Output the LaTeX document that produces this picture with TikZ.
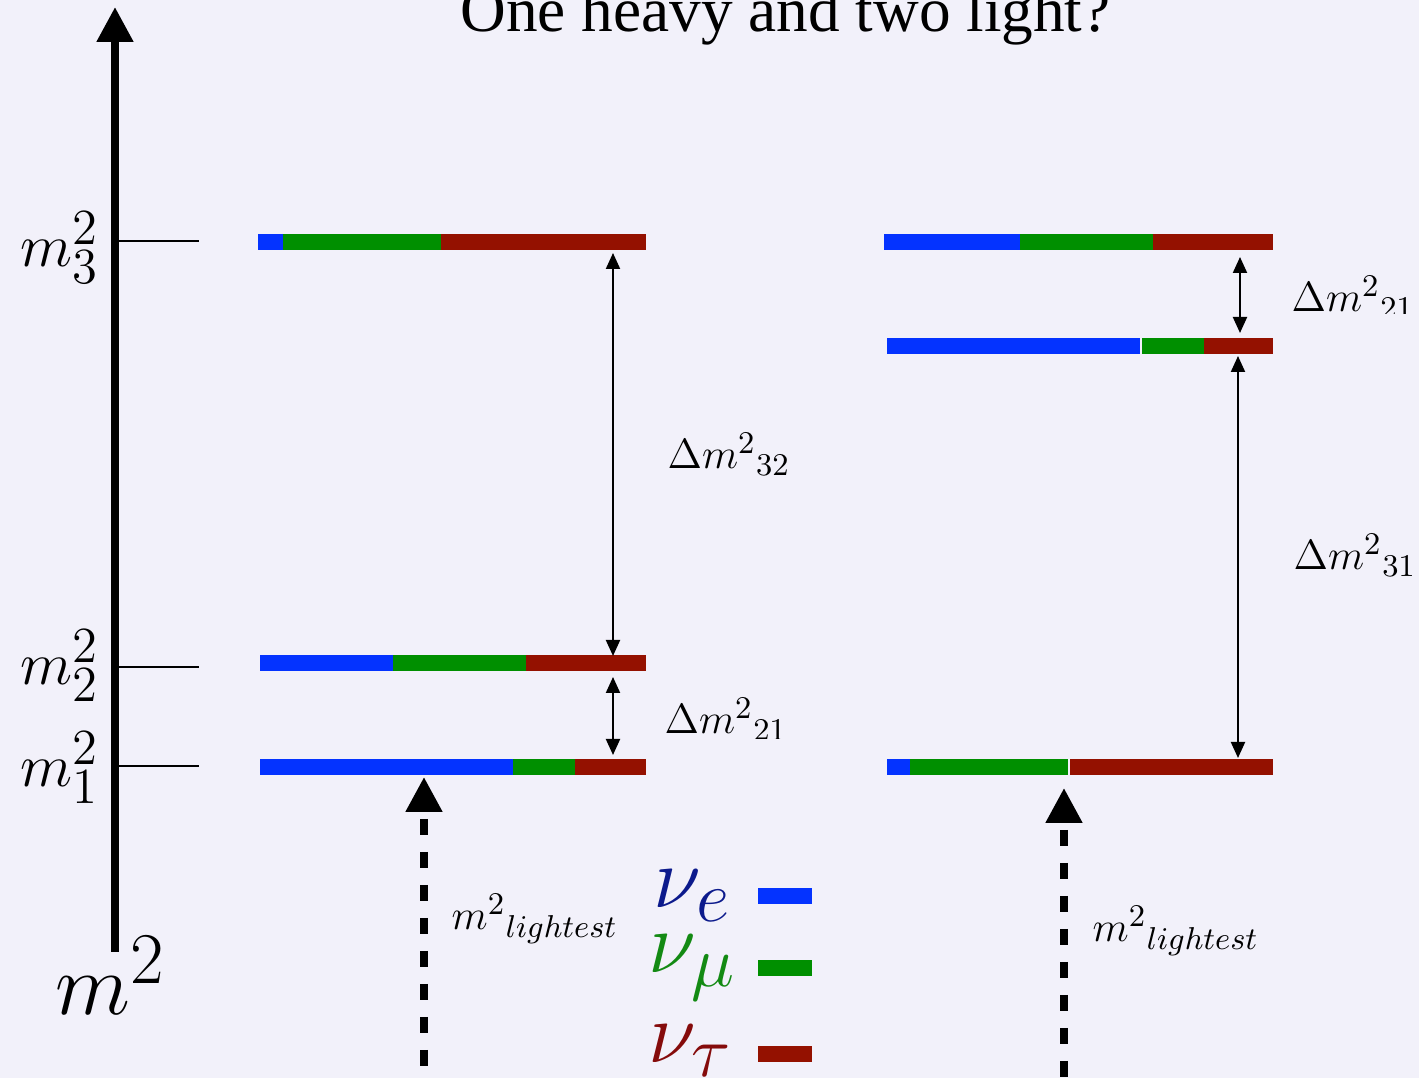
\documentclass[tikz,border=0pt]{standalone}
\usepackage{fontspec}
\newfontfamily\titlefont{Liberation Serif}
\usepackage{tikz}
\usetikzlibrary{arrows.meta}
\definecolor{slidebg}{HTML}{F2F1FA}
\definecolor{flavE}{HTML}{0433FF}
\definecolor{flavMu}{HTML}{008F00}
\definecolor{flavTau}{HTML}{941100}
\definecolor{nuE}{HTML}{0C1A8C}
\definecolor{nuMu}{HTML}{138A13}
\definecolor{nuTau}{HTML}{850B0B}

\begin{document}
\begin{tikzpicture}[>={Triangle[width=0.14cm,length=0.16cm]},
  axis/.style={line width=0.08cm, -{Triangle[width=0.35cm,length=0.35cm]}},
  tickline/.style={line width=0.02cm},
  gap/.style={<->, line width=0.02cm},
  lightarr/.style={line width=0.08cm, dash pattern=on 0.16cm off 0.17cm, dash phase=0.24cm, {Triangle[width=0.35cm,length=0.35cm]}-},
  mlab/.style={anchor=base east, inner sep=0pt, font=\fontsize{19}{23}\selectfont},
  dlab/.style={anchor=base west, inner sep=0pt, font=\fontsize{12.5}{15}\selectfont},
  nulab/.style={anchor=base west, inner sep=0pt, font=\fontsize{28}{32}\selectfont}]
\useasboundingbox (0,0) rectangle (14.19,-10.78);
\clip (0,0) rectangle (14.19,-10.78);
\fill[slidebg] (0,0) rectangle (14.19,-10.78);

\node[anchor=base, inner sep=0pt, font=\titlefont\fontsize{18}{20}\selectfont] (title) at (7.855,-0.32) {One heavy and two light?};

\coordinate (ax0) at (1.15,-9.52);
\coordinate (ax1) at (1.15,-0.07);
\draw[axis] (ax0) -- (ax1);
\foreach \y in {2.41,6.67,7.66} \draw[tickline] (1.15,-\y) -- (1.99,-\y);
\node[mlab] (m3) at (1.00,-2.67) {$m_3^2$};
\node[mlab] (m2) at (1.00,-6.85) {$m_2^2$};
\node[mlab] (m1) at (1.00,-7.87) {$m_1^2$};
\node[anchor=base west, inner sep=0pt, font=\fontsize{28}{32}\selectfont] (msq) at (0.55,-10.15) {$m^2$};

\foreach \xa/\xb/\y/\c in {2.58/2.83/2.42/flavE, 2.83/4.41/2.42/flavMu, 4.41/6.46/2.42/flavTau,
  2.60/3.93/6.635/flavE, 3.93/5.26/6.635/flavMu, 5.26/6.46/6.635/flavTau,
  2.60/5.13/7.675/flavE, 5.13/5.75/7.675/flavMu, 5.75/6.46/7.675/flavTau,
  8.84/10.20/2.42/flavE, 10.20/11.53/2.42/flavMu, 11.53/12.73/2.42/flavTau,
  8.87/11.40/3.46/flavE, 11.42/12.04/3.46/flavMu, 12.04/12.73/3.46/flavTau,
  8.87/9.10/7.675/flavE, 9.10/10.68/7.675/flavMu, 10.70/12.73/7.675/flavTau}
  \fill[\c] ({\xa},{-\y+0.08}) rectangle ({\xb},{-\y-0.08});

\coordinate (a32t) at (6.13,-2.53);
\coordinate (a32b) at (6.13,-6.56);
\coordinate (a21t) at (6.13,-6.77);
\coordinate (a21b) at (6.13,-7.55);
\coordinate (b21t) at (12.40,-2.57);
\coordinate (b21b) at (12.40,-3.33);
\coordinate (b31t) at (12.38,-3.56);
\coordinate (b31b) at (12.38,-7.58);
\draw[gap] (a32t) -- (a32b);
\draw[gap] (a21t) -- (a21b);
\draw[gap] (b21t) -- (b21b);
\draw[gap] (b31t) -- (b31b);
\node[dlab] (l32) at (6.67,-4.69) {$\Delta m^2{}_{32}$};
\begin{scope}
\clip (6.5,-6.8) rectangle (8.3,-7.39);
\node[dlab] (l21) at (6.64,-7.34) {$\Delta m^2{}_{21}$};
\end{scope}
\begin{scope}
\clip (12.8,-2.6) rectangle (14.19,-3.14);
\node[dlab] (r21) at (12.91,-3.12) {$\Delta m^2{}_{21}$};
\end{scope}
\node[dlab] (r31) at (12.93,-5.70) {$\Delta m^2{}_{31}$};

\coordinate (l1t) at (4.24,-7.77);
\coordinate (l1b) at (4.24,-10.95);
\coordinate (l2t) at (10.64,-7.88);
\coordinate (l2b) at (10.64,-10.95);
\draw[lightarr] (l1t) -- (l1b);
\draw[lightarr] (l2t) -- (l2b);
\node[dlab] (lt1) at (4.51,-9.30) {$m^2{}_{lightest}$};
\node[dlab] (lt2) at (10.92,-9.42) {$m^2{}_{lightest}$};

\node[nulab, text=nuE] (nue) at (6.53,-9.08) {$\nu_e$};
\node[nulab, text=nuMu] (numu) at (6.48,-9.73) {$\nu_\mu$};
\node[nulab, text=nuTau] (nutau) at (6.48,-10.63) {$\nu_\tau$};
\foreach \y/\c in {8.96/flavE, 9.68/flavMu, 10.54/flavTau}
  \fill[\c] (7.58,{-\y+0.08}) rectangle (8.12,{-\y-0.08});
\end{tikzpicture}
\end{document}
